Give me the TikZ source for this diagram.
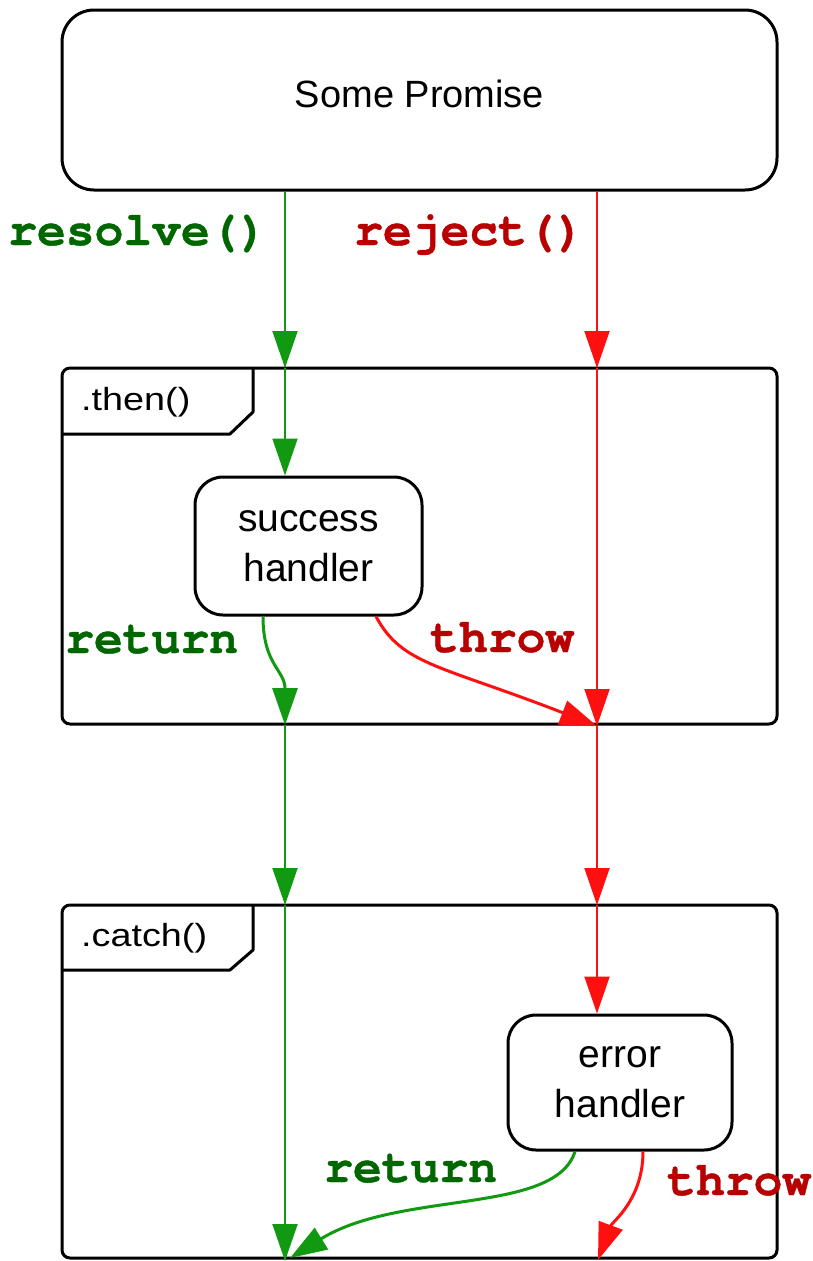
\documentclass[tikz,border=0pt]{standalone}
\usepackage{fontspec}
\setmainfont{Liberation Sans}
\newfontfamily\tabfont[FakeStretch=1.18]{Liberation Sans}
\newfontfamily\codefont{texgyrecursor}[Extension=.otf, UprightFont=*-regular, BoldFont=*-bold, BoldFeatures={FakeBold=0.8}]
\usetikzlibrary{arrows.meta}
\definecolor{lgreen}{HTML}{119A11}
\definecolor{lred}{HTML}{FF1010}
\definecolor{tgreen}{HTML}{006600}
\definecolor{tred}{HTML}{B80000}
\begin{document}
\begin{tikzpicture}[x=1pt,y=-1pt,
  box/.style={draw=black, line width=3pt, rounded corners=28pt, inner sep=0pt, align=center},
  frame/.style={draw=black, line width=3pt, rounded corners=8pt, inner sep=0pt},
  tab/.style={draw=black, line width=3pt, line join=round},
  tablabel/.style={anchor=base west, inner sep=0pt, font=\tabfont\fontsize{32}{40}\selectfont},
  handlertext/.style={font=\fontsize{39}{50}\selectfont},
  tip/.style={-{Triangle[length=37pt,width=25pt]}},
  gline/.style={draw=lgreen, line width=2pt, tip},
  rline/.style={draw=lred, line width=2pt, tip},
  gcurve/.style={draw=lgreen, line width=3pt, tip},
  rcurve/.style={draw=lred, line width=3pt, tip},
  code/.style={anchor=base west, inner sep=0pt, font=\codefont\bfseries\fontsize{48}{52}\selectfont},
  gcode/.style={code, text=tgreen},
  rcode/.style={code, text=tred}
]
\useasboundingbox (0,0) rectangle (813,1261);
\fill[white] (0,0) rectangle (813,1261);

% promise box
\node[box, minimum width=715pt, minimum height=180pt, rounded corners=32pt,
      font=\fontsize{38}{46}\selectfont, text depth=13pt] (promise) at (419.5,100) {Some Promise};

% frames
\node[frame, minimum width=715pt, minimum height=356pt] (thenframe) at (419.5,546) {};
\node[frame, minimum width=715pt, minimum height=353pt] (catchframe) at (419.5,1081.5) {};

% tabs
\draw[tab] (253,368) -- (253,412) -- (230,434) -- (62,434);
\draw[tab] (253,905) -- (253,950) -- (230,970) -- (62,970);
\node[tablabel] (thenlabel) at (81,410) {.then()};
\node[tablabel] (catchlabel) at (81,946) {.catch()};

% handlers
\node[box, minimum width=227pt, minimum height=138pt, handlertext] (success) at (308.5,546) {success\\handler};
\node[box, minimum width=224pt, minimum height=135pt, handlertext] (error) at (620,1082.5) {error\\handler};

% coordinates on the flow columns
\coordinate (gA) at (285,368);
\coordinate (gB) at (285,725);
\coordinate (gC) at (285,905);
\coordinate (gD) at (285,1261);
\coordinate (rA) at (597,368);
\coordinate (rB) at (597,726);
\coordinate (rC) at (597,905);
\coordinate (rD) at (598,1260);
\coordinate (gE) at (290,1258);

% green flow
\draw[gline] (promise.south -| gA) -- (gA);
\draw[gline] (gA) -- (success.north -| gA);
\draw[gcurve] (success.south -| 263,0) .. controls (263,665) and (285,670) .. (gB);
\draw[gline] (gB) -- (gC);
\draw[gline] (gC) -- (gD);

% red flow
\draw[rline] (promise.south -| rA) -- (rA);
\draw[rline] (rA) -- (rB);
\draw[rcurve] (success.south -| 376,0) .. controls (402,665) and (440,665) .. (rB);
\draw[rline] (rB) -- (rC);
\draw[rline] (rC) -- (error.north -| rC);

% catch outputs
\draw[gcurve] (error.south -| 575,0) .. controls (555,1215) and (400,1190) .. (gE);
\draw[rcurve] (error.south -| 643,0) .. controls (643,1200) and (612,1222) .. (rD);

% labels
\node[gcode] (lresolve) at (8,245) {resolve()};
\node[rcode] (lreject) at (354,245) {reject()};
\node[gcode] (lreturn1) at (65,653) {return};
\node[rcode] (lthrow1) at (430,652) {throw};
\node[gcode] (lreturn2) at (324,1182) {return};
\node[rcode] (lthrow2) at (667,1195) {throw};
\end{tikzpicture}
\end{document}
